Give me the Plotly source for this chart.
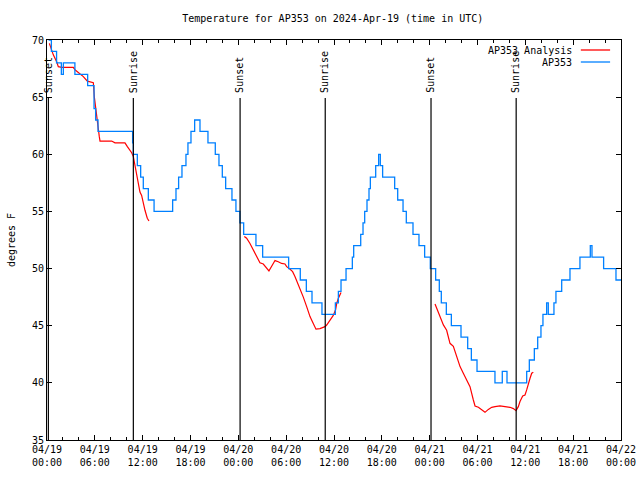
import pandas as pd
import plotly.graph_objects as go

BASE = pd.Timestamp("2024-04-19 00:00")

# AP353 observations (hours since 2024-04-19 00:00 UTC, degrees F), stepwise
obs_hours = [0.2, 0.55, 1.2, 1.8, 2.05, 3.5, 5.1, 5.9, 6.1, 6.4,
             10.74, 10.83, 11.33, 11.75, 12.08, 12.71, 13.43, 15.76, 16.18, 16.51,
             16.93, 17.43, 17.68, 18.06, 18.52, 19.19, 20.19, 21.11, 21.57, 21.99,
             22.41, 23.2, 23.7, 24.2, 24.67, 26.21, 27.05, 30.31, 31.77, 32.53,
             33.24, 34.49, 36.17, 36.55, 36.88, 37.51, 38.3, 38.47, 39.35, 39.64,
             39.85, 40.14, 40.39, 40.56, 41.23, 41.6, 41.81, 42.1, 43.61, 43.99,
             44.66, 45.07, 45.91, 46.66, 47.37, 48.08, 48.75, 49.21, 49.46, 50.09,
             50.72, 51.93, 52.77, 53.23, 53.94, 56.19, 57.11, 57.7, 60.17, 60.5,
             61.13, 61.55, 61.96, 62.21, 62.67, 62.88, 63.59, 63.84, 64.56, 65.6,
             66.85, 68.15, 68.36, 69.82, 71.37, 72.0]
obs_temps = [70, 69, 68, 67, 68, 67, 66, 64, 63, 62,
             61, 60, 59, 58, 57, 56, 55, 56, 57, 58,
             59, 60, 61, 62, 63, 62, 61, 60, 59, 58,
             57, 56, 55, 54, 53, 52, 51, 50, 49, 48,
             47, 46, 47, 48, 49, 50, 51, 52, 53, 54,
             55, 56, 57, 58, 59, 60, 59, 58, 57, 56,
             55, 54, 53, 52, 51, 50, 49, 48, 47, 46,
             45, 44, 43, 42, 41, 40, 41, 40, 41, 42,
             43, 44, 45, 46, 47, 46, 47, 48, 49, 50,
             51, 52, 51, 50, 49, 49]

# AP353 Analysis, three segments
ana1_hours = [0.3, 0.79, 1.21, 1.42, 1.84, 3.3, 3.51, 4.14, 4.56, 5.06, 5.81, 5.94,
              6.14, 6.31, 6.56, 6.65, 8.11, 8.53, 9.16, 9.78, 10.08, 10.41, 10.62,
              10.83, 10.91, 11.16, 11.46, 11.66, 11.87, 12.08, 12.29, 12.58, 12.79]
ana1_temps = [69.7, 68.7, 68.1, 67.67, 67.6, 67.6, 67.4, 67.08, 66.8, 66.4, 66.27, 65.0,
              63.7, 63.0, 61.54, 61.16, 61.16, 61.0, 61.0, 61.0, 60.67, 60.4, 60.14,
              59.8, 59.5, 58.5, 57.3, 56.7, 56.4, 55.7, 55.1, 54.4, 54.16]
ana2_hours = [24.75, 25.04, 25.46, 25.88, 26.3, 26.71, 27.13, 27.55, 27.84, 28.18,
              28.6, 29.01, 29.43, 29.85, 30.06, 30.39, 30.81, 31.1, 31.52, 31.94,
              32.15, 32.57, 32.99, 33.4, 33.74, 34.24, 34.87, 35.08, 35.49, 35.91,
              36.2, 36.34, 36.55, 36.88]
ana2_temps = [52.8, 52.65, 52.2, 51.6, 51.04, 50.5, 50.4, 50.03, 49.8, 50.2,
              50.7, 50.6, 50.45, 50.4, 50.17, 50.0, 49.73, 49.3, 48.57, 48.0,
              47.5, 46.67, 45.8, 45.2, 44.7, 44.75, 44.92, 45.06, 45.5, 45.9,
              46.4, 46.96, 47.4, 47.9]
ana3_hours = [48.67, 49.3, 49.72, 50.13, 50.55, 50.97, 51.39, 51.81, 52.22, 52.64,
              53.06, 53.48, 53.69, 54.11, 54.52, 54.94, 55.36, 55.78, 56.2, 56.82,
              57.45, 58.08, 58.5, 58.83, 59.12, 59.33, 59.67, 59.96, 60.17, 60.38,
              60.59, 60.8, 61.0]
ana3_temps = [46.9, 45.8, 45.07, 44.6, 43.46, 43.2, 42.3, 41.42, 40.84, 40.25,
              39.67, 38.5, 37.98, 37.86, 37.63, 37.42, 37.68, 37.86, 37.92, 37.98,
              37.92, 37.86, 37.75, 37.57, 37.92, 38.36, 38.85, 38.94, 39.38, 39.96,
              40.4, 40.84, 40.93]

# Sun events (hours since 2024-04-19 00:00 UTC)
sun_hours = [0.17, 10.83, 24.22, 34.9, 48.17, 58.85]
sun_labels = ["Sunset", "Sunrise", "Sunset", "Sunrise", "Sunset", "Sunrise"]

TITLE = "Temperature for AP353 on 2024-Apr-19 (time in UTC)"
FONT = "DejaVu Sans Mono"
RED = "#ff0000"
BLUE = "#0080ff"


def to_time(hours):
    return [BASE + pd.to_timedelta(h, unit="h") for h in hours]


ana_x, ana_y = [], []
for hs, ts in [(ana1_hours, ana1_temps), (ana2_hours, ana2_temps), (ana3_hours, ana3_temps)]:
    if ana_x:
        ana_x.append(None)
        ana_y.append(None)
    ana_x += to_time(hs)
    ana_y += ts

fig = go.Figure()
fig.add_trace(go.Scatter(x=ana_x, y=ana_y, mode="lines", name="AP353 Analysis",
                         line=dict(color=RED, width=1.2), connectgaps=False,
                         showlegend=False))
fig.add_trace(go.Scatter(x=to_time(obs_hours), y=obs_temps, mode="lines", name="AP353",
                         line=dict(color=BLUE, width=1.3, shape="hv"),
                         showlegend=False))

for h, lab in zip(sun_hours, sun_labels):
    t = BASE + pd.to_timedelta(h, unit="h")
    fig.add_shape(type="line", xref="x", yref="paper", x0=t, x1=t, y0=0, y1=0.855,
                  line=dict(color="black", width=1.2))
    fig.add_annotation(x=t, y=0.863, xref="x", yref="paper", text=lab, textangle=-90,
                       showarrow=False, xanchor="center", yanchor="bottom",
                       font=dict(family=FONT, size=10, color="black"))

# gnuplot-style legend: text right-aligned, sample line to the right
for i, (nm, col) in enumerate([("AP353 Analysis", RED), ("AP353", BLUE)]):
    yp = 0.975 - i * 0.03
    fig.add_annotation(x=0.918, y=yp, xref="paper", yref="paper", text=nm,
                       showarrow=False, xanchor="right", yanchor="middle",
                       font=dict(family=FONT, size=10, color="black"))
    fig.add_shape(type="line", xref="paper", yref="paper", x0=0.930, x1=0.981,
                  y0=yp, y1=yp, line=dict(color=col, width=1.3))

fig.update_layout(
    width=640, height=480,
    margin=dict(l=47, r=19, t=40, b=40),
    paper_bgcolor="white", plot_bgcolor="white",
    font=dict(family=FONT, size=10, color="black"),
    title=dict(text=TITLE, x=0.52, xanchor="center", y=0.962, yanchor="middle",
               font=dict(family=FONT, size=10, color="black")),
    showlegend=False,
)
fig.update_xaxes(
    range=[BASE, BASE + pd.Timedelta(hours=72)],
    type="date", tick0=BASE, dtick=6 * 3600 * 1000, tickformat="%m/%d<br>%H:%M",
    ticks="inside", ticklen=5, tickcolor="black", showgrid=False,
    showline=True, linecolor="black", linewidth=1, mirror="allticks",
    minor=dict(dtick=2 * 3600 * 1000, ticks="inside", ticklen=3, tickcolor="black", showgrid=False),
    zeroline=False, tickfont=dict(family=FONT, size=10), automargin=False,
)
fig.update_yaxes(
    range=[35, 70], dtick=5, ticks="inside", ticklen=5, tickcolor="black",
    showgrid=False, showline=True, linecolor="black", linewidth=1, mirror="allticks",
    zeroline=False, title=dict(text="degrees F", font=dict(family=FONT, size=10), standoff=14),
    tickfont=dict(family=FONT, size=10), automargin=False,
)

fig.write_html("out.html", config={"displayModeBar": False},
               post_script="document.body.style.margin='0';")
